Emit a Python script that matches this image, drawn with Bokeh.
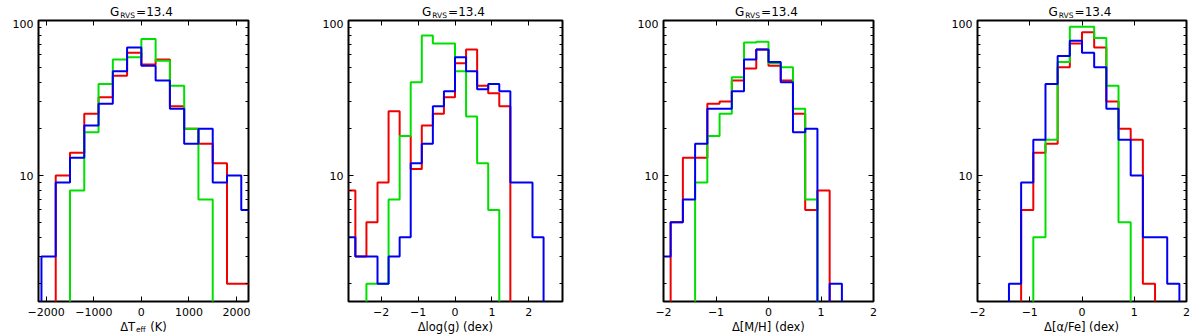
from bokeh.plotting import figure
from bokeh.layouts import row, column
from bokeh.models import Range1d, FixedTicker, LinearAxis, LogAxis
from bokeh.core.properties import value
from bokeh.embed import file_html
from bokeh.resources import INLINE

# ---------------- data ----------------
y_major = [10, 100]
y_minor = [2, 3, 4, 5, 6, 7, 8, 9, 20, 30, 40, 50, 60, 70, 80, 90]
y_labels = ["10", "100"]

# Panel 1: Delta Teff (K), bins of 300 K
teff_edges = [-2400, -2100, -1800, -1500, -1200, -900, -600, -300, 0,
              300, 600, 900, 1200, 1500, 1800, 2100, 2400]
teff_red   = [0, 0, 10, 14, 25, 32, 44, 62, 52, 56, 28, 20, 16, 12, 2, 2]
teff_green = [0, 0, 0, 8, 19, 39, 56, 58, 76, 55, 38, 20, 7, 0, 0, 0]
teff_blue  = [0, 3, 9, 13, 21, 29, 47, 67, 51, 41, 27, 16, 20, 9, 10, 6]
teff_ticks = [-2000, -1000, 0, 1000, 2000]
teff_tick_labels = ["\u22122000", "\u22121000", "0", "1000", "2000"]

# Panel 2: Delta log(g) (dex), bins of 0.3 dex
logg_edges = [-3.0, -2.7, -2.4, -2.1, -1.8, -1.5, -1.2, -0.9, -0.6, -0.3, 0.0,
              0.3, 0.6, 0.9, 1.2, 1.5, 1.8, 2.1, 2.4, 2.7, 3.0]
logg_red   = [8, 3, 5, 9, 26, 18, 11, 21, 25, 32, 53, 65, 38, 34, 28, 0, 0, 0, 0, 0]
logg_green = [0, 0, 2, 2, 7, 18, 40, 80, 71, 71, 47, 24, 12, 6, 0, 0, 0, 0, 0, 0]
logg_blue  = [4, 3, 3, 2, 3, 4, 12, 16, 28, 35, 58, 47, 36, 39, 35, 9, 9, 4, 0, 0]

# Panel 3: Delta [M/H] (dex)
mh_edges = [-2.097, -1.864, -1.631, -1.398, -1.165, -0.932, -0.699, -0.466, -0.233, 0.0,
            0.233, 0.466, 0.699, 0.932, 1.165, 1.398, 1.631]
mh_red   = [0, 5, 13, 13, 29, 30, 41, 49, 65, 51, 41, 25, 6, 8, 0, 0]
mh_green = [0, 0, 0, 9, 18, 25, 43, 72, 73, 53, 50, 27, 7, 0, 0, 0]
mh_blue  = [3, 5, 7, 16, 27, 27, 35, 56, 65, 54, 40, 19, 20, 0, 2, 0]

# Panel 4: Delta [alpha/Fe] (dex)
afe_edges = [-2.097, -1.864, -1.631, -1.398, -1.165, -0.932, -0.699, -0.466, -0.233, 0.0,
             0.233, 0.466, 0.699, 0.932, 1.165, 1.398, 1.631, 1.864, 2.097]
afe_red   = [0, 0, 0, 0, 6, 14, 16, 50, 71, 84, 67, 30, 20, 17, 2, 0, 0, 0]
afe_green = [0, 0, 0, 0, 0, 4, 17, 54, 91, 91, 77, 38, 5, 0, 0, 0, 0, 0]
afe_blue  = [0, 0, 0, 2, 9, 17, 39, 59, 74, 62, 50, 27, 17, 10, 4, 4, 2, 0]

dex_ticks = [-2, -1, 0, 1, 2]
dex_tick_labels = ["\u22122", "\u22121", "0", "1", "2"]

# (text, font px, vertical middle in strip px from its bottom)
title_pieces = [("G", 12, 7.25), ("RVS", 7.5, 4.4), ("=13.4", 12, 7.25)]

# ---------------- styling / layout ----------------
RED, GREEN, BLUE = "#f00000", "#00e000", "#0000f0"
FONT = "DejaVu Sans"
Y_LO, Y_HI = 1.539, 100.0
FLOOR = 1.0  # empty bins drop below the axis

TOP_H, FRAME_H, AX_H, LAB_H = 19, 281, 19, 16   # 19 + 1 + 281 + 19 + 16 = 336

# DejaVu Sans advance widths (em) for label layout
W = {" ": 0.318, "\u00a0": 0.318, "(": 0.390, ")": 0.390, "=": 0.838, ".": 0.318,
     "G": 0.775, "R": 0.695, "V": 0.684, "S": 0.635, "T": 0.611, "K": 0.656,
     "\u0394": 0.684, "e": 0.615, "f": 0.352, "l": 0.278, "o": 0.612, "g": 0.635,
     "d": 0.635, "x": 0.592, "[": 0.390, "]": 0.390, "M": 0.863, "/": 0.337,
     "H": 0.752, "\u03b1": 0.659, "F": 0.575}


def twidth(s, size):
    return sum(W.get(ch, 0.636) for ch in s) * size


def step_xy(edges, counts):
    xs, ys = [edges[0]], [FLOOR]
    for i, c in enumerate(counts):
        v = c if c > 0 else FLOOR
        xs += [edges[i], edges[i + 1]]
        ys += [v, v]
    xs.append(edges[-1])
    ys.append(FLOOR)
    return xs, ys


def text_strip(cfg, xrange, height, pieces, shift):
    """Bare strip, aligned with the panel frame, holding a centred run of text."""
    t = figure(frame_width=cfg["fw"], frame_height=height,
               min_border_left=cfg["bl"], min_border_right=cfg["br"],
               min_border_top=0, min_border_bottom=0,
               x_range=xrange, y_range=Range1d(0, height),
               x_axis_location=None, y_axis_location=None,
               output_backend="svg", toolbar_location=None,
               background_fill_color="white", border_fill_color="white",
               outline_line_color=None)
    t.grid.visible = False
    cx = 0.5 * (xrange.start + xrange.end)
    total = sum(twidth(s, z) for s, z, _ in pieces) + 0.8 * (len(pieces) - 1)
    acc = -total / 2.0 + shift
    for s, z, ym in pieces:
        t.text(x=[cx], y=[ym], text=[s], x_offset=acc,
               text_font=value(FONT), text_font_size=value(f"{z}px"),
               text_color="black", text_align="left", text_baseline="middle")
        acc += twidth(s, z) + 0.8
    return t


panels = [
    dict(edges=teff_edges, red=teff_red, green=teff_green, blue=teff_blue,
         xr=(-2162, 2252), ticks=teff_ticks, tlabels=teff_tick_labels,
         xlabel=[("\u0394T", 11.5, 9.2), ("eff", 7.5, 7.5), ("\u00a0(K)", 11.5, 9.2)],
         bl=38, fw=210, br=50),
    dict(edges=logg_edges, red=logg_red, green=logg_green, blue=logg_blue,
         xr=(-2.886, 2.913), ticks=dex_ticks, tlabels=dex_tick_labels,
         xlabel=[("\u0394log(g) (dex)", 11.5, 9.2)],
         bl=50, fw=214, br=51),
    dict(edges=mh_edges, red=mh_red, green=mh_green, blue=mh_blue,
         xr=(-2.0, 2.0), ticks=dex_ticks, tlabels=dex_tick_labels,
         xlabel=[("\u0394[M/H] (dex)", 11.5, 9.2)],
         bl=50, fw=210, br=53),
    dict(edges=afe_edges, red=afe_red, green=afe_green, blue=afe_blue,
         xr=(-2.0, 2.0), ticks=dex_ticks, tlabels=dex_tick_labels,
         xlabel=[("\u0394[\u03b1/Fe] (dex)", 11.5, 9.2)],
         bl=51, fw=209, br=14),
]


def style_axis(ax, ticker, overrides, minor_in, labels=True, standoff=3):
    ax.ticker = ticker
    ax.axis_line_color = None
    ax.major_tick_in = 5
    ax.major_tick_out = 0
    ax.minor_tick_in = minor_in
    ax.minor_tick_out = 0
    ax.major_tick_line_color = "black"
    ax.minor_tick_line_color = "black"
    ax.major_tick_line_width = 1
    ax.minor_tick_line_width = 1
    if labels:
        ax.major_label_overrides = overrides
        ax.major_label_text_font = FONT
        ax.major_label_text_font_size = "11px"
        ax.major_label_text_color = "black"
        ax.major_label_standoff = standoff
    else:
        ax.major_label_overrides = {k: "" for k in overrides}
        ax.major_label_text_font_size = "0px"
        ax.major_label_standoff = 0


cols = []
for cfg in panels:
    xrange = Range1d(*cfg["xr"])
    p = figure(frame_width=cfg["fw"], frame_height=FRAME_H,
               min_border_left=cfg["bl"], min_border_right=cfg["br"],
               min_border_top=1, min_border_bottom=AX_H,
               x_range=xrange, y_range=Range1d(Y_LO, Y_HI),
               y_axis_type="log", output_backend="svg", toolbar_location=None,
               background_fill_color="white", border_fill_color="white",
               outline_line_color="black", outline_line_width=2)
    p.grid.visible = False

    xover = dict(zip(cfg["ticks"], cfg["tlabels"]))
    yover = dict(zip(y_major, y_labels))
    style_axis(p.xaxis[0], FixedTicker(ticks=cfg["ticks"]), xover, 0, True, 6)
    style_axis(p.yaxis[0], FixedTicker(ticks=y_major, minor_ticks=y_minor), yover, 3, True, 5)

    top = LinearAxis()
    style_axis(top, FixedTicker(ticks=cfg["ticks"]), xover, 0, False)
    p.add_layout(top, "above")
    right = LogAxis()
    style_axis(right, FixedTicker(ticks=y_major, minor_ticks=y_minor), yover, 3, False)
    p.add_layout(right, "right")

    for key, col in (("red", RED), ("green", GREEN), ("blue", BLUE)):
        xs, ys = step_xy(cfg["edges"], cfg[key])
        p.line(xs, ys, line_color=col, line_width=2)

    title = text_strip(cfg, xrange, TOP_H, title_pieces, -2.0)
    xlab = text_strip(cfg, xrange, LAB_H, cfg["xlabel"], 0.0)
    cols.append(column(title, p, xlab, spacing=0))

layout = row(*cols, spacing=0)
open("out.html", "w").write(file_html(layout, INLINE))
